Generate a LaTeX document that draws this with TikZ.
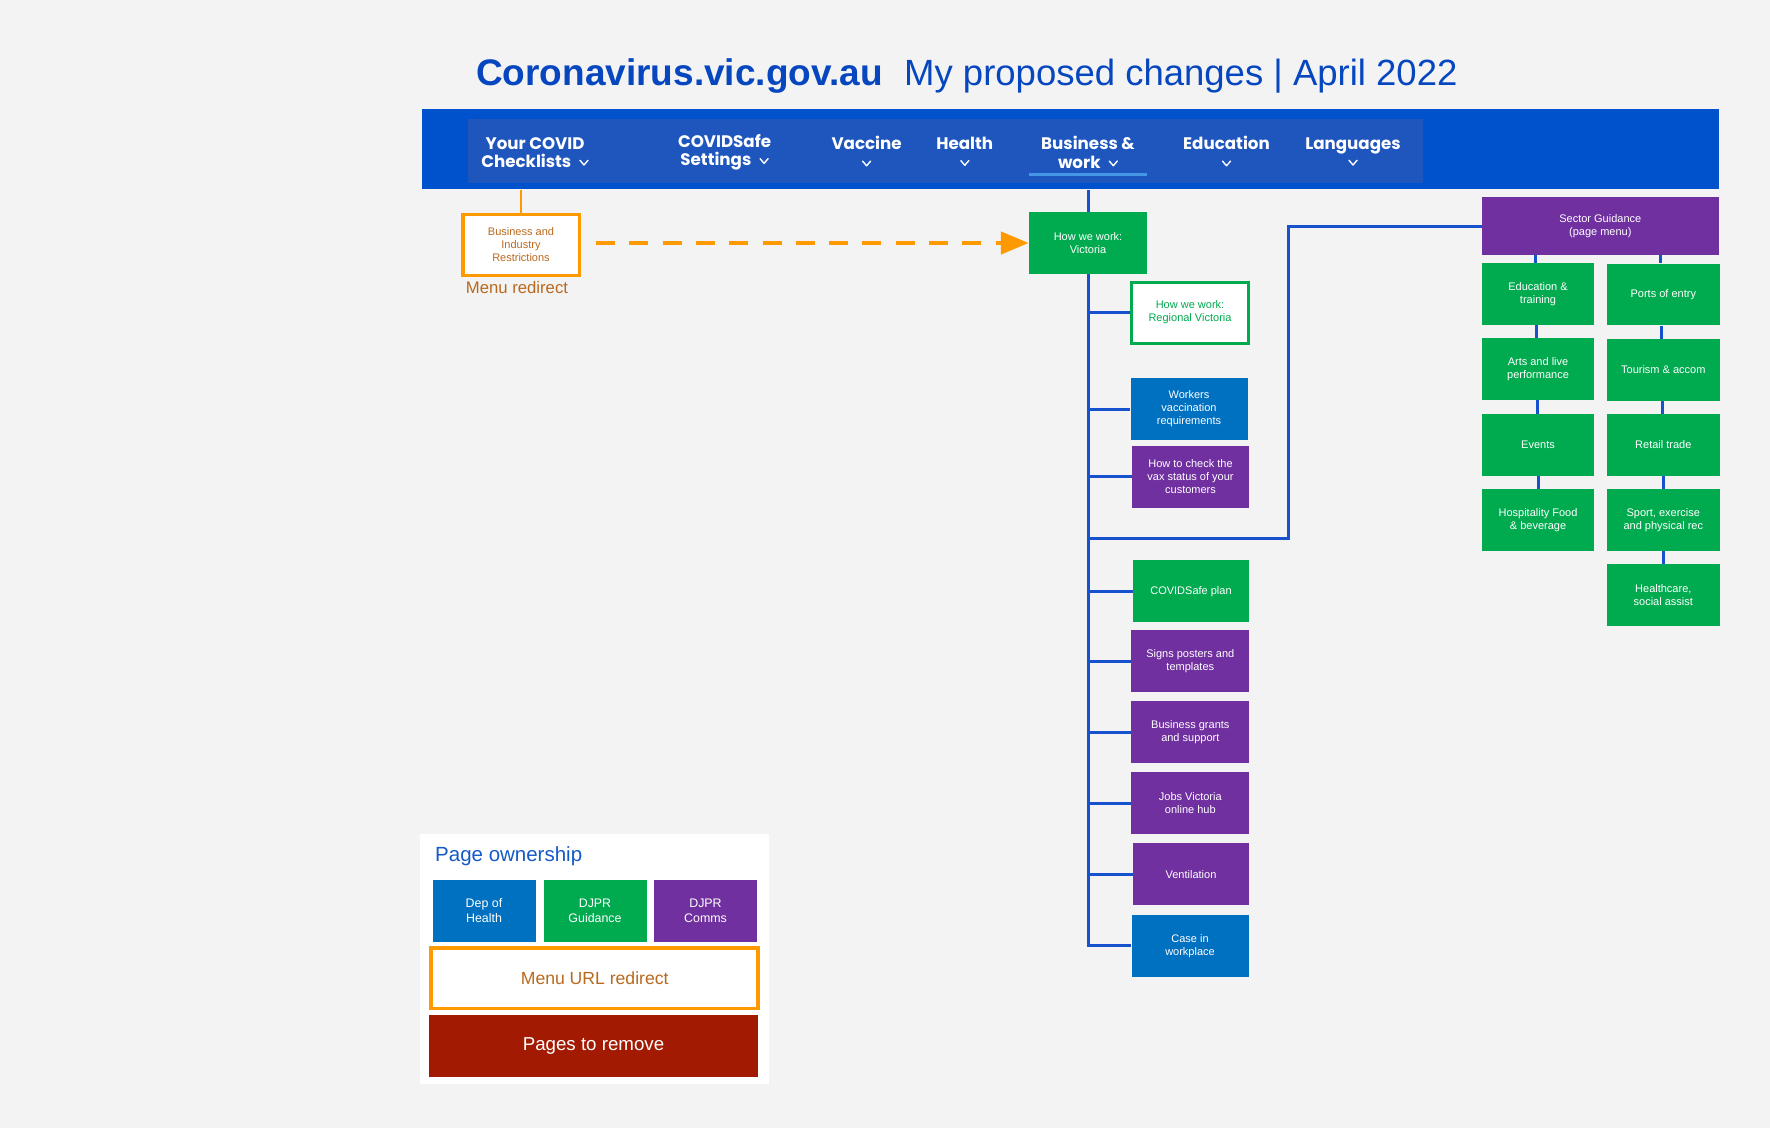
\documentclass[tikz,border=0pt]{standalone}
\usepackage{fontspec}
\setmainfont{Liberation Sans}
\newfontfamily\navfam{Poppins}
\usetikzlibrary{arrows.meta}
\definecolor{bg}{RGB}{243,243,243}
\definecolor{navblue}{RGB}{0,82,204}
\definecolor{navinner}{RGB}{30,86,190}
\definecolor{titleblue}{RGB}{6,70,190}
\definecolor{cgreen}{RGB}{0,170,78}
\definecolor{cpurple}{RGB}{112,48,160}
\definecolor{cblue}{RGB}{0,112,192}
\definecolor{cline}{RGB}{22,82,206}
\definecolor{corange}{RGB}{255,153,0}
\definecolor{cbrown}{RGB}{185,105,30}
\definecolor{cred}{RGB}{163,26,2}
\definecolor{uline}{RGB}{70,150,230}
\definecolor{legblue}{RGB}{20,90,200}
\newcommand\navf{\navfam\fontsize{16.7}{18.2}\selectfont\bfseries}
\newcommand\boxf{\fontsize{11}{13}\selectfont}
\newcommand\chevonly{\tikz[baseline=0pt]\draw[white,line width=1.4pt,line cap=round,line join=round] (0pt,7pt)--(4pt,2.3pt)--(8pt,7pt);}
\newcommand\chev{\kern8pt\chevonly}
\begin{document}
\begin{tikzpicture}[x=1pt,y=-1pt,
  box/.style={rectangle, inner sep=0pt, minimum width=117pt, minimum height=62pt, align=center, text=white, font=\boxf},
  gbox/.style={box, fill=cgreen},
  pbox/.style={box, fill=cpurple},
  bbox/.style={box, fill=cblue},
  sbox/.style={box, fill=cgreen, minimum width=112.7pt, minimum height=61.7pt},
  conn/.style={draw=cline, line width=3pt},
  navitem/.style={text=white, align=center, font=\navf, inner sep=0pt},
  legbox/.style={box, minimum width=103pt, minimum height=61.7pt, font=\fontsize{12.4}{15}\selectfont}
]
\useasboundingbox (0,0) rectangle (1770,1128);
\fill[bg] (0,0) rectangle (1770,1128);

% title
\node[anchor=base west, inner sep=0pt, text=titleblue, font=\fontsize{37}{40}\selectfont\bfseries] (t1) at (476,85) {Coronavirus.vic.gov.au};
\node[anchor=base west, inner sep=0pt, text=titleblue, font=\fontsize{36.5}{40}\selectfont] (t2) at (904,85) {My proposed changes | April 2022};

% nav bar
\node[fill=navblue, minimum width=1297.5pt, minimum height=80pt, inner sep=0pt] (nav) at (1070.25,149.3) {};
\node[fill=navinner, minimum width=955pt, minimum height=64.3pt, inner sep=0pt] (navin) at (945,151.2) {};
\node[navitem] (n1) at (535,152.3) {Your COVID\\Checklists\chev};
\node[navitem] (n2) at (724.6,152.3) {COVIDSafe\\Settings\chev};
\node[navitem] (n3) at (866.6,152.3) {Vaccine\\\chevonly};
\node[navitem] (n4) at (964.8,152.3) {Health\\\chevonly};
\node[navitem] (n5) at (1088,152.3) {Business \&\\work\chev};
\node[navitem] (n6) at (1226.5,152.3) {Education\\\chevonly};
\node[navitem] (n7) at (1353,152.3) {Languages\\\chevonly};
\draw[uline, line width=2.8pt] (1029,174.7) -- (1147,174.7);

% orange redirect box
\node[box, draw=corange, line width=3.5pt, fill=white, text=cbrown, minimum width=116.5pt, minimum height=61pt] (obox) at (521,245) {Business and\\Industry\\Restrictions};
\node[text=cbrown, font=\fontsize{16.7}{18}\selectfont, inner sep=0pt] (mr) at (517,287.3) {Menu redirect};
\draw[corange, line width=2.5pt] (obox.north) -- (obox.north |- nav.south);

% main column
\node[gbox, minimum width=118pt] (vic) at (1088,243) {How we work:\\Victoria};
\coordinate (ds) at ([xshift=15pt]obox.east);
\draw[corange, line width=4.5pt, dash pattern=on 19pt off 14.3pt, -{Triangle[length=28pt,width=22pt]}] (ds |- vic.west) -- (vic.west);

\node[box, draw=cgreen, line width=3pt, fill=white, text=cgreen, minimum width=117pt, minimum height=61pt] (reg) at (1190,312.5) {How we work:\\Regional Victoria};
\node[bbox] (work) at (1189,409) {Workers\\vaccination\\requirements};
\node[pbox] (check) at (1190.5,476.7) {How to check the\\vax status of your\\customers};
\node[gbox, minimum width=116pt] (plan) at (1191,591.3) {COVIDSafe plan};
\node[pbox, minimum width=118pt] (signs) at (1190.3,661.2) {Signs posters and\\templates};
\node[pbox, minimum width=118pt] (grants) at (1190.3,732.3) {Business grants\\and support};
\node[pbox, minimum width=118pt] (jobs) at (1190.3,803.3) {Jobs Victoria\\online hub};
\node[pbox, minimum width=116pt] (vent) at (1191,874.3) {Ventilation};
\node[bbox] (case) at (1190,945.7) {Case in\\workplace};

\draw[conn] (vic.north |- nav.south) -- (vic.north);
\draw[conn] (vic.south) -- (vic.south |- case.west) -- (case.west);
\foreach \n in {reg,work,check,plan,signs,grants,jobs,vent}
  \draw[conn] (vic.south |- \n.west) -- (\n.west);

% sector guidance
\node[pbox, minimum width=237pt, minimum height=58pt] (sector) at (1600.3,226) {Sector Guidance\\(page menu)};
\coordinate (sj) at (1088,538);
\coordinate (sc) at (1288,226);
\draw[conn] (sj) -- (sj -| sc) -- (sc) -- (sector.west);

\node[sbox] (edu) at (1538,294.2) {Education \&\\training};
\node[sbox] (arts) at (1538,369.3) {Arts and live\\performance};
\node[sbox] (events) at (1538,444.7) {Events};
\node[sbox] (hosp) at (1538,520.2) {Hospitality Food\\\& beverage};
\node[sbox] (ports) at (1663.3,294.5) {Ports of entry};
\node[sbox] (tour) at (1663.3,369.8) {Tourism \& accom};
\node[sbox] (retail) at (1663.3,444.7) {Retail trade};
\node[sbox] (sport) at (1663.3,519.8) {Sport, exercise\\and physical rec};
\node[sbox] (health) at (1663.3,595) {Healthcare,\\social assist};

\draw[conn] ([xshift=-3pt]sector.south -| edu.north) -- ([xshift=-3pt]edu.north);
\draw[conn] ([xshift=-2pt]edu.south) -- ([xshift=-2pt]arts.north);
\draw[conn] ([xshift=-1pt]arts.south) -- ([xshift=-1pt]events.north);
\draw[conn] (events.south) -- (hosp.north);
\draw[conn] ([xshift=-3pt]sector.south -| ports.north) -- ([xshift=-3pt]ports.north);
\draw[conn] ([xshift=-2pt]ports.south) -- ([xshift=-2pt]tour.north);
\draw[conn] ([xshift=-1pt]tour.south) -- ([xshift=-1pt]retail.north);
\draw[conn] (retail.south) -- (sport.north);
\draw[conn] (sport.south) -- (health.north);

% legend
\node[fill=white, minimum width=349pt, minimum height=250pt, inner sep=0pt] (legend) at (594.5,959) {};
\node[anchor=west, inner sep=0pt, text=legblue, font=\fontsize{20.5}{22}\selectfont] (legt) at (435,856) {Page ownership};
\node[legbox, fill=cblue] (l1) at (484,910.8) {Dep of\\Health};
\node[legbox, fill=cgreen] (l2) at (595,910.8) {DJPR\\Guidance};
\node[legbox, fill=cpurple] (l3) at (705.5,910.8) {DJPR\\Comms};
\node[box, draw=corange, line width=3.5pt, fill=white, text=cbrown, minimum width=327pt, minimum height=60.5pt, font=\fontsize{17.6}{20}\selectfont] (l4) at (594.7,978) {Menu URL redirect};
\node[box, fill=cred, minimum width=328.3pt, minimum height=62pt, font=\fontsize{18.7}{20}\selectfont] (l5) at (593.5,1046.3) {Pages to remove};
\end{tikzpicture}
\end{document}
